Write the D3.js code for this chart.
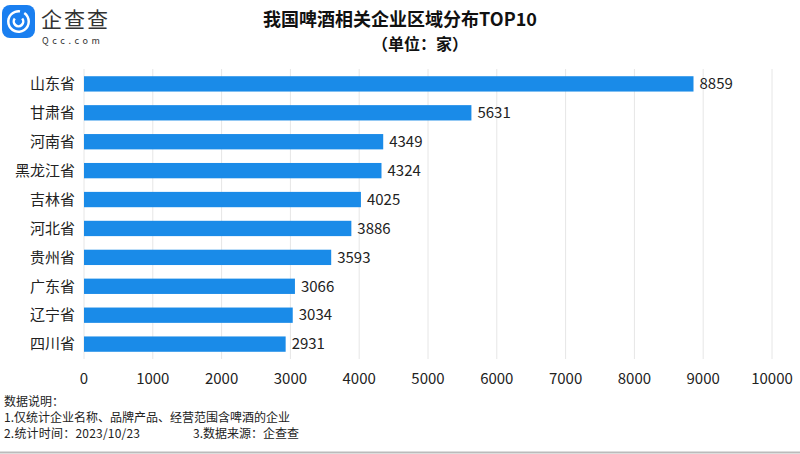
<!DOCTYPE html>
<html>
<head>
<meta charset="utf-8">
<script src="https://cdn.jsdelivr.net/npm/d3@7"></script>
<style>
  body { margin: 0; background: #fff; }
  svg { font-family: "Noto Sans CJK SC", "Noto Sans", sans-serif; display: block; }
</style>
</head>
<body>
<svg id="chart" width="800" height="454"></svg>
<script>
var provinces = ['山东省', '甘肃省', '河南省', '黑龙江省', '吉林省', '河北省', '贵州省', '广东省', '辽宁省', '四川省']
var counts = [8859, 5631, 4349, 4324, 4025, 3886, 3593, 3066, 3034, 2931]
var ticks = [0, 1000, 2000, 3000, 4000, 5000, 6000, 7000, 8000, 9000, 10000]
var notes = ['数据说明：', '1.仅统计企业名称、品牌产品、经营范围含啤酒的企业']

var svg = d3.select('#chart')
var barColor = '#1a8be8'

var x = d3.scaleLinear().domain([0, 10000]).range([84, 772])
var y = d3.scaleBand().domain(provinces).range([69, 359]).paddingInner(0.47).paddingOuter(0.25)

// grid
svg.append('g').selectAll('line').data(ticks).join('line')
  .attr('x1', d => x(d)).attr('x2', d => x(d))
  .attr('y1', 69).attr('y2', 359)
  .attr('stroke', '#e6e6e6').attr('stroke-width', 1)

// bars
svg.append('g').selectAll('rect').data(provinces).join('rect')
  .attr('x', x(0))
  .attr('y', d => y(d))
  .attr('height', y.bandwidth())
  .attr('width', (d, i) => x(counts[i]) - x(0))
  .attr('fill', barColor)

// value labels
svg.append('g').selectAll('text').data(provinces).join('text')
  .attr('x', (d, i) => x(counts[i]) + 6)
  .attr('y', d => y(d) + y.bandwidth() / 2)
  .attr('dy', '.35em')
  .attr('font-size', 15)
  .attr('fill', '#222')
  .text((d, i) => counts[i])

// category labels
svg.append('g').selectAll('text').data(provinces).join('text')
  .attr('x', 75)
  .attr('y', d => y(d) + y.bandwidth() / 2)
  .attr('dy', '.35em')
  .attr('text-anchor', 'end')
  .attr('font-size', 15)
  .attr('fill', '#222')
  .text(d => d)

// x axis tick labels
svg.append('g').selectAll('text').data(ticks).join('text')
  .attr('x', d => x(d))
  .attr('y', 384)
  .attr('text-anchor', 'middle')
  .attr('font-size', 15)
  .attr('fill', '#222')
  .text(d => d)

// title
svg.append('text')
  .attr('x', 400).attr('y', 26)
  .attr('text-anchor', 'middle')
  .attr('font-size', 18).attr('font-weight', 'bold')
  .attr('fill', '#111')
  .text('我国啤酒相关企业区域分布TOP10')
svg.append('text')
  .attr('x', 420).attr('y', 50)
  .attr('text-anchor', 'middle')
  .attr('font-size', 16).attr('font-weight', 'bold')
  .attr('fill', '#111')
  .text('（单位：家）')

// logo
var logo = svg.append('g')
logo.append('rect')
  .attr('x', 2).attr('y', 5).attr('width', 33).attr('height', 33).attr('rx', 8)
  .attr('fill', '#1a7ff0')
logo.append('path')
  .attr('d', d3.arc()({innerRadius: 9, outerRadius: 11.5, startAngle: 0.6, endAngle: 2 * Math.PI + 0.15}))
  .attr('transform', 'translate(18.5,21.5)')
  .attr('fill', '#fff')
logo.append('path')
  .attr('d', d3.arc()({innerRadius: 3.5, outerRadius: 6, startAngle: 0.9, endAngle: 2 * Math.PI - 0.9}))
  .attr('transform', 'translate(18.5,21.5)')
  .attr('fill', '#fff')
logo.append('text')
  .attr('x', 41).attr('y', 27)
  .attr('font-size', 21).attr('fill', '#333')
  .attr('letter-spacing', 2)
  .text('企查查')
logo.append('text')
  .attr('x', 42).attr('y', 44)
  .attr('font-size', 9).attr('fill', '#333')
  .attr('letter-spacing', 3.6)
  .text('Qcc.com')

// notes
var noteSel = svg.append('g')
  .attr('font-size', 12).attr('fill', '#222')
noteSel.selectAll('text').data(notes).join('text')
  .attr('x', 4)
  .attr('y', (d, i) => 406 + i * 16)
  .text(d => d)
noteSel.append('text').attr('x', 4).attr('y', 438).attr('textLength', 136).text('2.统计时间：2023/10/23')
noteSel.append('text').attr('x', 193).attr('y', 438).text('3.数据来源：企查查')

svg.append('line')
  .attr('x1', 0).attr('x2', 800).attr('y1', 452.5).attr('y2', 452.5)
  .attr('stroke', '#bbb').attr('stroke-width', 2)
</script>
</body>
</html>
